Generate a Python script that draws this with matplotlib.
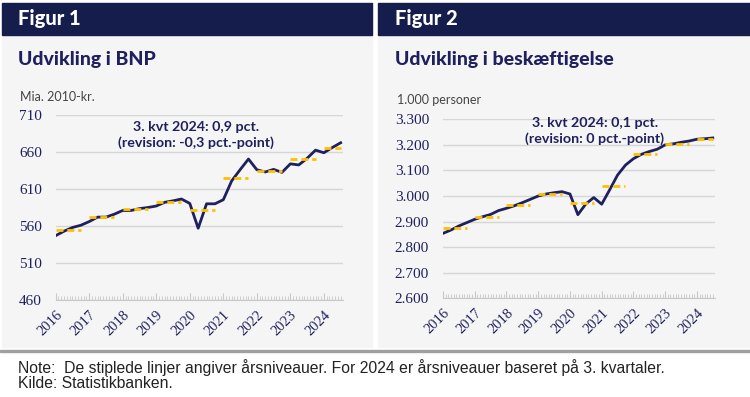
import numpy as np
import matplotlib.pyplot as plt
from matplotlib.patches import Rectangle
from matplotlib.ticker import FuncFormatter, MultipleLocator

# quarterly data, 2016K1 - 2024K3
bnp = [547, 553, 558, 561, 566, 572, 572, 576, 581, 581, 583.5, 585,
       587, 592, 594, 596.5, 590.5, 557, 590, 590, 595.5, 621, 636, 650.5,
       636, 633, 636.5, 632.5, 644, 642.5, 651.5, 662.5, 659, 666, 672.5]
besk = [2854, 2867, 2883, 2896, 2909, 2919, 2928, 2943, 2952, 2962, 2974, 2987,
        3000, 3008, 3013, 3017, 3008, 2927, 2969, 2994, 2968, 3024, 3082, 3121,
        3146, 3163, 3174, 3183, 3200, 3204, 3210, 3215, 3222, 3224, 3227]

years = [2016, 2017, 2018, 2019, 2020, 2021, 2022, 2023, 2024]
bnp_aar = [554.6, 572, 582.5, 592.4, 581.6, 625, 634.3, 650, 665.9]
besk_aar = [2876, 2919, 2964, 3007, 2974, 3040, 3164, 3204, 3224]

bnp_yticks = [460, 510, 560, 610, 660, 710]
besk_yticks = [2600, 2700, 2800, 2900, 3000, 3100, 3200, 3300]

navy = '#1f205e'
gold = '#ffc000'
head = '#141d4b'

W, H = 750, 397
fig = plt.figure(figsize=(W / 100, H / 100), dpi=100)
fig.patch.set_facecolor('white')


def px(x0, y0, w, h):
    return [x0 / W, 1 - (y0 + h) / H, w / W, h / H]


# panel backgrounds and header bars
for x0, x1 in [(2, 372), (378, 750)]:
    fig.patches.append(Rectangle((x0 / W, 1 - 347 / H), (x1 - x0) / W, (347 - 35) / H,
                                 transform=fig.transFigure, color='#f5f5f5', zorder=0))
    fig.patches.append(Rectangle((x0 / W, 1 - 35 / H), (x1 - x0) / W, 32 / H,
                                 transform=fig.transFigure, color=head, zorder=1))
fig.patches.append(Rectangle((0, 1 - 352 / H), 1, 2 / H,
                             transform=fig.transFigure, color='#a0a0a0', zorder=1))

fig.text(18 / W, 1 - 19 / H, 'Figur 1', color='white', fontsize=14.5,
         fontweight='black', family='Lato', va='center')
fig.text(395 / W, 1 - 19 / H, 'Figur 2', color='white', fontsize=14.5,
         fontweight='black', family='Lato', va='center')
fig.text(18 / W, 1 - 60 / H, 'Udvikling i BNP', color=navy, fontsize=14,
         fontweight='black', family='Lato', va='center')
fig.text(395 / W, 1 - 60 / H, 'Udvikling i beskæftigelse', color=navy, fontsize=14,
         fontweight='black', family='Lato', va='center')
fig.text(20 / W, 1 - 97 / H, 'Mia. 2010-kr.', color='#444444', fontsize=9,
         family='Lato', va='center')
fig.text(397 / W, 1 - 100 / H, '1.000 personer', color='#444444', fontsize=9,
         family='Lato', va='center')

fig.text(18 / W, 1 - 368 / H,
         'Note:  De stiplede linjer angiver årsniveauer. For 2024 er årsniveauer baseret på 3. kvartaler.',
         color='#222222', fontsize=11.35, family='Liberation Sans', va='center')
fig.text(18 / W, 1 - 384 / H, 'Kilde: Statistikbanken.', color='#222222', fontsize=11.35,
         family='Liberation Sans', va='center')

x = 2016 + np.arange(len(bnp)) / 4
starts = np.array(years, dtype=float)
ends = starts + 0.75
ends[-1] = 2024.5


def setup(ax, yticks, fmt):
    ax.set_zorder(5)
    ax.set_facecolor('none')
    ax.set_xlim(2016, 2024.57)
    ax.set_ylim(yticks[0], yticks[-1])
    ax.set_yticks(yticks)
    ax.yaxis.set_major_formatter(FuncFormatter(fmt))
    ax.grid(axis='y', color='#d6d6d6', linewidth=1)
    ax.set_axisbelow(True)
    for s in ['top', 'right', 'left']:
        ax.spines[s].set_visible(False)
    ax.spines['bottom'].set_color('#c8c8c8')
    ax.set_xticks(years)
    ax.set_xticklabels([str(y) for y in years], rotation=45, ha='right',
                       rotation_mode='anchor')
    ax.xaxis.set_minor_locator(MultipleLocator(1 / 12))
    ax.tick_params(axis='x', which='major', direction='in', length=5, color='#c8c8c8',
                   labelsize=10.5, labelcolor=navy, pad=6)
    ax.tick_params(axis='x', which='minor', direction='in', length=3, color='#c8c8c8')
    ax.tick_params(axis='y', length=0, labelsize=11, labelcolor=navy, pad=10)
    for lab in ax.get_xticklabels() + ax.get_yticklabels():
        lab.set_family('Liberation Serif')


dash = (0, (2.5, 1.4))

ax1 = fig.add_axes(px(55.7, 115, 287.3, 185))
setup(ax1, bnp_yticks, lambda v, p: f'{v:.0f}')
ax1.plot(x, bnp, color=navy, linewidth=2, zorder=3)
ax1.hlines(bnp_aar, starts, ends, color=gold, linewidth=2, linestyles=dash, zorder=4)
ax1.text(2016 + (196 - 55.7) / 33.5, 710 - (135 - 115) / 0.74,
         '3. kvt 2024: 0,9 pct.\n(revision: -0,3 pct.-point)', color=navy,
         fontsize=10.3, fontweight='bold', family='Lato', ha='center', va='center',
         linespacing=1.25)

ax2 = fig.add_axes(px(443, 119.3, 272, 179))
setup(ax2, besk_yticks, lambda v, p: f'{v:,.0f}'.replace(',', '.'))
ax2.plot(x, besk, color=navy, linewidth=2, zorder=3)
ax2.hlines(besk_aar, starts, ends, color=gold, linewidth=2, linestyles=dash, zorder=4)
ax2.text(2016 + (595 - 443) / 31.75, 3300 - (131 - 119.3) * 700 / 179,
         '3. kvt 2024: 0,1 pct.\n(revision: 0 pct.-point)', color=navy,
         fontsize=10.3, fontweight='bold', family='Lato', ha='center', va='center',
         linespacing=1.25)

fig.savefig('out.png', dpi=100)
